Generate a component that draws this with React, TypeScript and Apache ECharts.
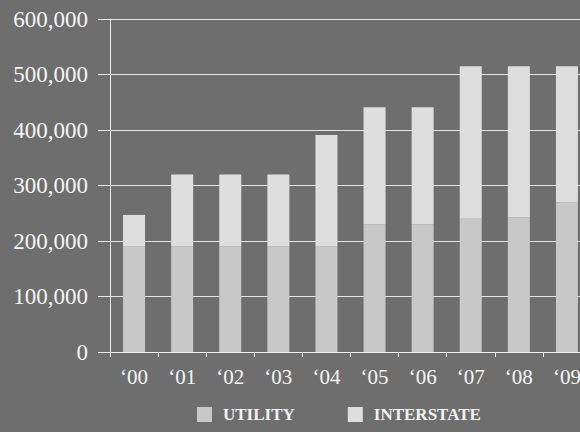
import React, { useEffect, useRef } from "react";
import * as echarts from "echarts";

const categories = ["‘00", "‘01", "‘02", "‘03", "‘04", "‘05", "‘06", "‘07", "‘08", "‘09"];
const utility = [190000, 190000, 190000, 190000, 190000, 230000, 230000, 240000, 243000, 270000];
const interstate = [57000, 130000, 130000, 130000, 201000, 211000, 211000, 275000, 272000, 245000];
const seriesNames = ["UTILITY", "INTERSTATE"];

export default function App() {
  const ref = useRef<HTMLDivElement>(null);
  useEffect(() => {
    document.body.style.margin = "0";
    document.body.style.overflow = "hidden";
    const chart = echarts.init(ref.current!, null, { renderer: "svg" });
    const font = "'Liberation Serif', 'DejaVu Serif', serif";
    chart.setOption({
      animation: false,
      backgroundColor: "#6e6e6e",
      grid: { left: 110, top: 19, right: 0, bottom: 80, containLabel: false },
      legend: {
        left: 197,
        top: 406,
        padding: 0,
        itemWidth: 15,
        itemHeight: 15,
        itemGap: 53,
        icon: "rect",
        textStyle: { color: "#f2f2f2", fontSize: 17, fontWeight: "bold", fontFamily: font, padding: [0, 0, 0, 6] },
        data: seriesNames,
      },
      xAxis: {
        type: "category",
        data: categories,
        axisLine: { show: true, lineStyle: { color: "#f0f0f0", width: 1 } },
        axisTick: { show: true, length: 5, lineStyle: { color: "#f0f0f0" } },
        axisLabel: { color: "#f5f5f5", fontSize: 21, fontFamily: font, margin: 14 },
      },
      yAxis: {
        type: "value",
        min: 0,
        max: 600000,
        interval: 100000,
        axisLine: { show: true, lineStyle: { color: "#f0f0f0", width: 1 } },
        axisTick: { show: true, inside: false, length: 12, lineStyle: { color: "#e8e8e8" } },
        splitLine: { show: true, lineStyle: { color: "#e4e4e4", width: 1 } },
        axisLabel: {
          color: "#f5f5f5",
          fontSize: 23,
          fontFamily: font,
          margin: 22,
          formatter: (v: number) => v.toLocaleString("en-US"),
        },
      },
      series: [
        {
          name: seriesNames[0],
          type: "bar",
          stack: "total",
          barWidth: 22,
          data: utility,
          itemStyle: { color: "#c8c8c8" },
        },
        {
          name: seriesNames[1],
          type: "bar",
          stack: "total",
          barWidth: 22,
          data: interstate,
          itemStyle: { color: "#dedede" },
        },
      ],
    });
    return () => chart.dispose();
  }, []);
  return (
    <div style={{ width: 580, height: 432, overflow: "hidden" }}>
      <div ref={ref} style={{ width: 591, height: 432 }} />
    </div>
  );
}
